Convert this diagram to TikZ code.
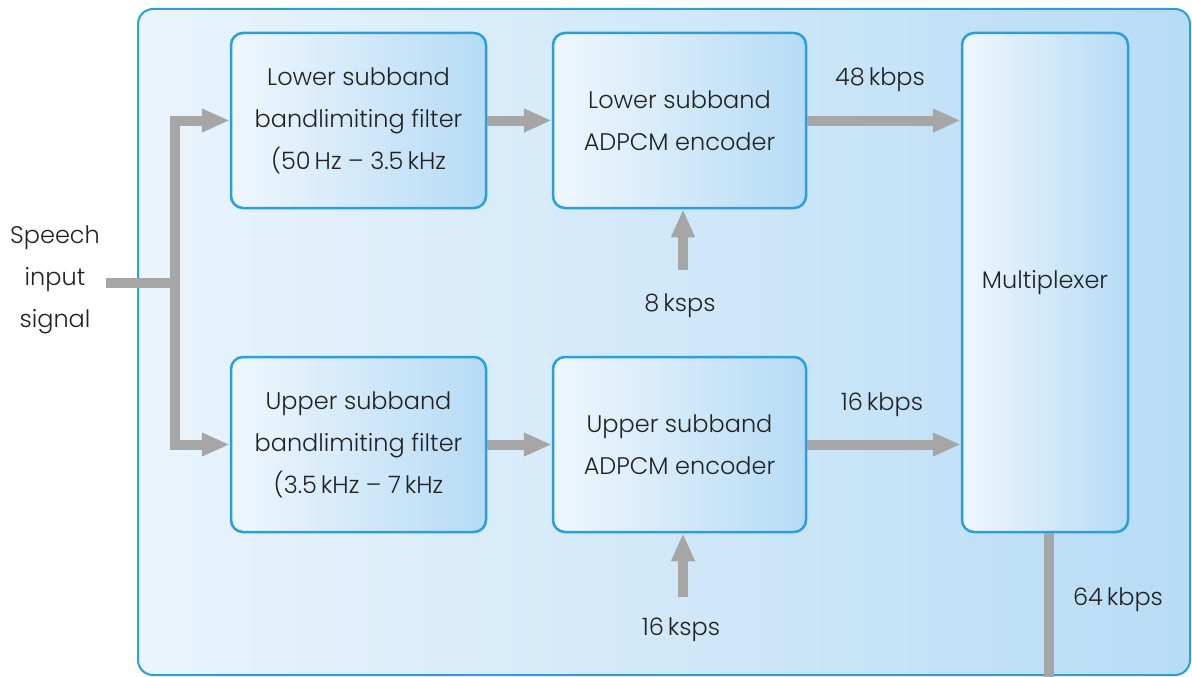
\documentclass[tikz,border=0pt]{standalone}
\usepackage{fontspec}
\IfFontExistsTF{Poppins Light}
  {\setmainfont{Poppins Light}}
  {\setmainfont{Poppins}}
\usetikzlibrary{arrows.meta,positioning}
\definecolor{framecol}{HTML}{2A9FDF}
\definecolor{bgleft}{HTML}{EAF4FC}
\definecolor{bgright}{HTML}{B8DCF5}
\definecolor{boxleft}{HTML}{EFF7FD}
\definecolor{boxright}{HTML}{B6DBF5}
\definecolor{arrowgray}{HTML}{A6A6A6}
\definecolor{ink}{HTML}{222222}
\tikzset{
  lbl/.style={font=\fontsize{24}{42}\selectfont, text=ink, align=center, inner sep=0pt},
  block/.style={lbl, draw=framecol, line width=2.5pt, rounded corners=12pt,
    left color=boxleft, right color=boxright, shading angle=90,
    minimum width=255pt, minimum height=175pt},
  flow/.style={draw=arrowgray, line width=10pt, -{Triangle[length=28pt,width=22pt]}},
  bar/.style={draw=arrowgray, line width=10pt},
}
\begin{document}
\begin{tikzpicture}[x=1pt,y=-1pt]
\useasboundingbox (0,0) rectangle (1192,677);
% outer panel
\draw[draw=framecol, line width=2pt, rounded corners=15pt,
  left color=bgleft, right color=bgright] (138,9) rectangle (1190,675);

% processing blocks
\node[block] (lf) at (358.5,120.5) {Lower subband\\bandlimiting filter\\(50\,Hz -- 3.5\,kHz};
\node[block, minimum width=253pt] (le) at (679.5,120.5) {Lower subband\\ADPCM encoder};
\node[block] (uf) at (358.5,444.5) {Upper subband\\bandlimiting filter\\(3.5\,kHz -- 7\,kHz};
\node[block, minimum width=253pt] (ue) at (679.5,444.5) {Upper subband\\ADPCM encoder};
\node[block, minimum width=166pt, minimum height=499pt] (mux) at (1045,282.5) {Multiplexer};

% input and splitter
\node[lbl] (speech) at (55,280) {Speech\\input\\signal};
\coordinate (in0) at (106,283);
\coordinate (split) at (175,283);
\draw[bar] (in0) -- (split);
\draw[flow] (split) |- (lf.west);
\draw[flow] (split) |- (uf.west);

% filter to encoder
\draw[flow] (lf.east) -- (le.west);
\draw[flow] (uf.east) -- (ue.west);

% encoder to multiplexer
\draw[flow] (le.east) -- (le.east -| mux.west);
\draw[flow] (ue.east) -- (ue.east -| mux.west);
\node[lbl] (r48) at (880,80) {48\,kbps};
\node[lbl] (r16) at (882,405) {16\,kbps};

% sampling rates
\coordinate (s8) at (683,270);
\draw[flow] (s8) -- (s8 |- le.south);
\node[lbl] (l8) at (680,306) {8\,ksps};
\coordinate (s16) at (683,597);
\draw[flow] (s16) -- (s16 |- ue.south);
\node[lbl] (l16) at (681,630) {16\,ksps};

% multiplexer output
\coordinate (out) at (1049,677);
\draw[bar] (out |- mux.south) -- (out);
\node[lbl] (r64) at (1118,600) {64\,kbps};
\end{tikzpicture}
\end{document}
